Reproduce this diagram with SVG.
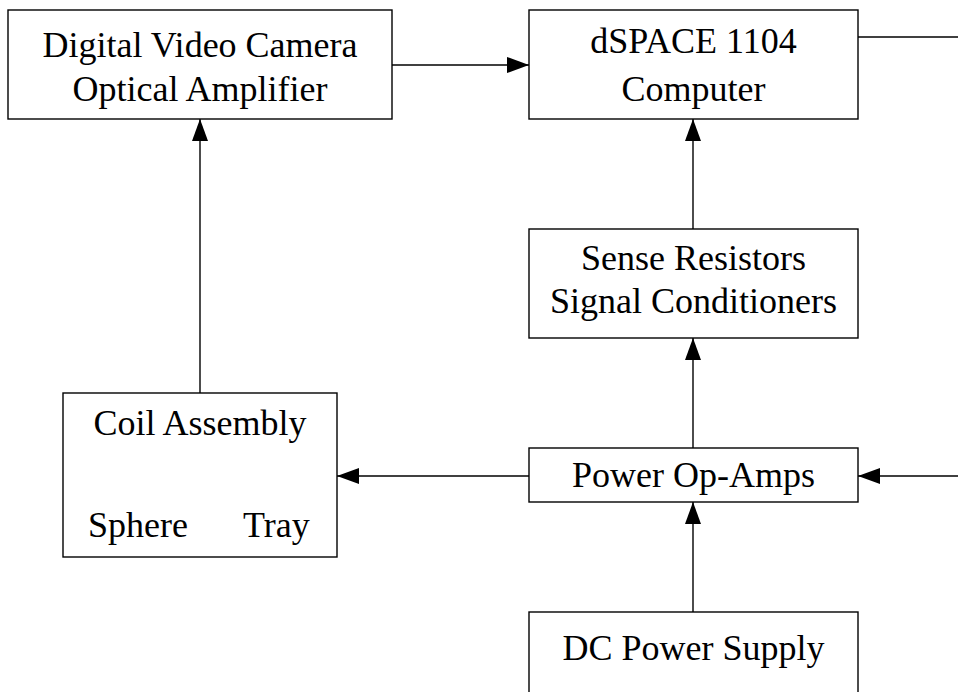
<svg xmlns="http://www.w3.org/2000/svg" width="958" height="692" viewBox="0 0 958 692">
<defs>
<marker id="ah" viewBox="0 0 22 16" refX="22" refY="8" markerWidth="22" markerHeight="16" markerUnits="userSpaceOnUse" orient="auto">
<path d="M0,0 L22,8 L0,16 Z" fill="#000"/>
</marker>
<style>
.box{fill:#fff;stroke:#000;stroke-width:1.4}
.t{font-family:"Liberation Serif","Times New Roman",serif;font-size:36px;fill:#000}
.c{text-anchor:middle}
.ln{stroke:#000;stroke-width:1.4;fill:none}
</style>
</defs>
<rect width="958" height="692" fill="#fff"/>
<g id="connectors">
<line class="ln" x1="392" y1="65" x2="529" y2="65" marker-end="url(#ah)"/>
<line class="ln" x1="858" y1="37" x2="958" y2="37"/>
<line class="ln" x1="693" y1="229" x2="693" y2="119" marker-end="url(#ah)"/>
<line class="ln" x1="693" y1="448" x2="693" y2="338" marker-end="url(#ah)"/>
<line class="ln" x1="200" y1="393" x2="200" y2="119" marker-end="url(#ah)"/>
<line class="ln" x1="529" y1="476" x2="337" y2="476" marker-end="url(#ah)"/>
<line class="ln" x1="958" y1="476" x2="858" y2="476" marker-end="url(#ah)"/>
<line class="ln" x1="693" y1="612" x2="693" y2="502" marker-end="url(#ah)"/>
</g>
<g id="camera">
<rect class="box" x="8" y="10" width="384" height="109"/>
<text class="t c" x="200" y="57">Digital Video Camera</text>
<text class="t c" x="200" y="101">Optical Amplifier</text>
</g>
<g id="dspace">
<rect class="box" x="529" y="10" width="329" height="109"/>
<text class="t c" x="693.5" y="53">dSPACE 1104</text>
<text class="t c" x="693.5" y="101">Computer</text>
</g>
<g id="sense">
<rect class="box" x="529" y="229" width="329" height="109"/>
<text class="t c" x="693.5" y="270">Sense Resistors</text>
<text class="t c" x="693.5" y="313">Signal Conditioners</text>
</g>
<g id="opamps">
<rect class="box" x="529" y="448" width="329" height="54"/>
<text class="t c" x="693.5" y="487">Power Op-Amps</text>
</g>
<g id="coil">
<rect class="box" x="63" y="393" width="274" height="164"/>
<text class="t c" x="200" y="435">Coil Assembly</text>
<text class="t" x="88" y="537">Sphere</text>
<text class="t" x="243" y="537">Tray</text>
</g>
<g id="dcsupply">
<rect class="box" x="529" y="612" width="329" height="100"/>
<text class="t c" x="693.5" y="660">DC Power Supply</text>
</g>
</svg>
